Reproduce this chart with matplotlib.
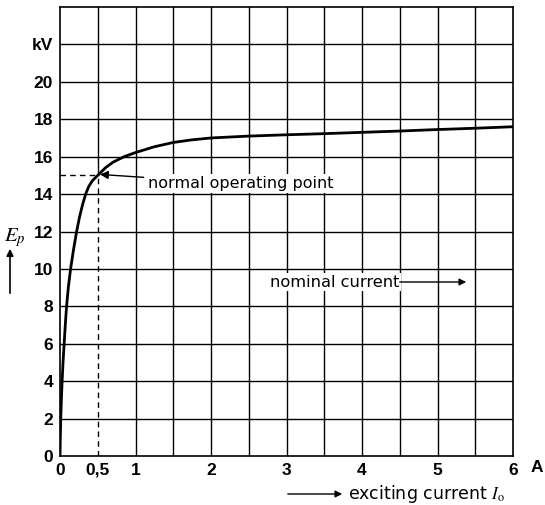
import matplotlib
matplotlib.use("Agg")
import matplotlib.pyplot as plt

# data
current_A = [0, 0.004, 0.01, 0.018, 0.028, 0.04, 0.055, 0.07, 0.087, 0.11, 0.14, 0.178,
             0.22, 0.26, 0.30, 0.34, 0.38, 0.43, 0.5, 0.6, 0.7, 0.85, 1.0, 1.25, 1.5, 1.75,
             2.0, 2.5, 3.0, 3.5, 4.0, 4.5, 5.0, 5.5, 6.0]
voltage_kV = [0, 1, 2, 3, 4, 5, 6, 7, 8, 9, 10, 11,
              12, 12.8, 13.45, 14.0, 14.4, 14.72, 15, 15.4, 15.7, 16.0, 16.22, 16.53, 16.76,
              16.9, 17.0, 17.1, 17.17, 17.23, 17.3, 17.37, 17.45, 17.52, 17.6]
op_point = (0.5, 15)
x_ticks = [0, 0.5, 1, 2, 3, 4, 5, 6]
x_ticklabels = ["0", "0,5", "1", "2", "3", "4", "5", "6"]
y_ticks = [0, 2, 4, 6, 8, 10, 12, 14, 16, 18, 20, 22]
y_ticklabels = ["0", "2", "4", "6", "8", "10", "12", "14", "16", "18", "20", "kV"]

plt.rcParams['font.family'] = ['Liberation Sans', 'DejaVu Sans']
plt.rcParams['mathtext.fontset'] = 'stix'

fig = plt.figure(figsize=(5.45, 5.05), dpi=100)
ax = fig.add_axes([60/545, 1-456/505, 453/545, 449/505])
ax.set_xlim(0, 6)
ax.set_ylim(0, 24)

# grid
for gx in [1, 1.5, 2, 2.5, 3, 3.5, 4, 4.5, 5, 5.5]:
    ax.axvline(gx, color='black', lw=1.0, zorder=1)
for gy in range(2, 24, 2):
    ax.axhline(gy, color='black', lw=1.0, zorder=1)
ax.plot([0.5, 0.5], [op_point[1], 24], color='black', lw=1.0, zorder=1)
ax.plot([0.5, 0.5], [0, op_point[1]], color='black', lw=1.0, ls=(0, (4, 3)), zorder=2)
ax.plot([0, 0.5], [op_point[1], op_point[1]], color='black', lw=1.0, ls=(0, (4, 3)), zorder=2)

for s in ax.spines.values():
    s.set_linewidth(1.2)

ax.plot(current_A, voltage_kV, color='black', lw=2.0, zorder=4,
        solid_joinstyle='round', solid_capstyle='butt')

ax.set_xticks(x_ticks)
ax.set_xticklabels(x_ticklabels)
ax.set_yticks(y_ticks)
ax.set_yticklabels(y_ticklabels)
ax.tick_params(length=0, labelsize=12.5, pad=5)
for lab in ax.get_xticklabels() + ax.get_yticklabels():
    lab.set_fontweight('bold')

ann_family = ['DejaVu Sans']

# annotations
ax.annotate("normal operating point", xy=(0.53, 15.05), xytext=(1.17, 14.55),
            family=ann_family, fontsize=11.5, va='center', ha='left', zorder=5,
            bbox=dict(boxstyle='square,pad=0.12', fc='white', ec='none'),
            arrowprops=dict(arrowstyle='-|>', color='black', lw=1.0,
                            mutation_scale=12, shrinkA=2, shrinkB=0))
ax.text(2.78, 9.3, "nominal current", family=ann_family, fontsize=11.7,
        va='center', ha='left', zorder=5,
        bbox=dict(boxstyle='square,pad=0.12', fc='white', ec='none'))
ax.annotate("", xy=(5.38, 9.3), xytext=(4.5, 9.3), zorder=5,
            arrowprops=dict(arrowstyle='-|>', color='black', lw=1.0,
                            mutation_scale=10, shrinkA=0, shrinkB=0))

# axis labels
fig.text(537/545, 1-467/505, "A", fontsize=12.5, fontweight='bold', ha='center', va='center')
fig.text(348/545, 1-494/505, r"exciting current $I_\mathrm{o}$", fontsize=12.5,
         family=ann_family, ha='left', va='center')
fig.patches.append(matplotlib.patches.FancyArrowPatch(
    (285/545, 1-494/505), (345/545, 1-494/505), transform=fig.transFigure,
    arrowstyle='-|>', mutation_scale=10, color='black', lw=1.0))
fig.text(15/545, 1-238/505, r"$E_p$", fontsize=15, ha='center', va='center')
fig.patches.append(matplotlib.patches.FancyArrowPatch(
    (10/545, 1-296/505), (10/545, 1-246/505), transform=fig.transFigure,
    arrowstyle='-|>', mutation_scale=10, color='black', lw=1.2))

fig.savefig("out.png", dpi=100)
